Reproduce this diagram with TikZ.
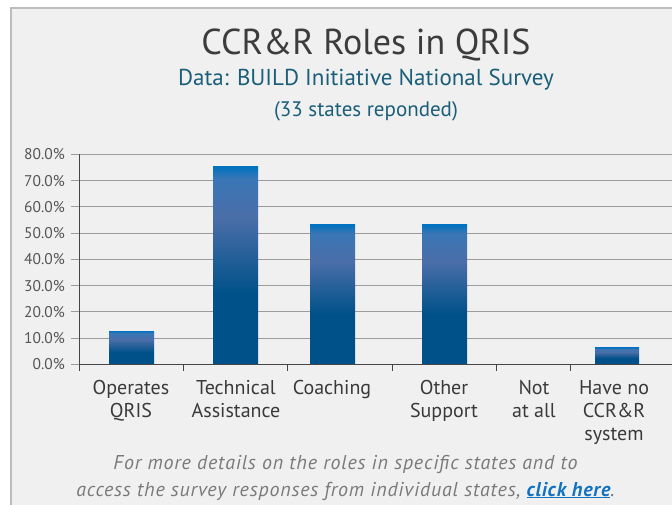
\documentclass[tikz,border=0pt]{standalone}
\usepackage{fontspec}
\setmainfont{PT Sans}
\newfontfamily\footfont[LetterSpace=4]{PT Sans}
\definecolor{panelfill}{HTML}{F0F0F0}
\definecolor{panelborder}{HTML}{BDBDBD}
\definecolor{titlecol}{HTML}{3C3C3C}
\definecolor{subcol}{HTML}{1A5E78}
\definecolor{gridcol}{HTML}{9C9C9C}
\definecolor{axiscol}{HTML}{454545}
\definecolor{ylabcol}{HTML}{555555}
\definecolor{catcol}{HTML}{3A3A3A}
\definecolor{footcol}{HTML}{7A7A7A}
\definecolor{linkcol}{HTML}{1272C2}
\definecolor{bardark}{HTML}{005189}
\definecolor{barmid}{HTML}{4A6EA8}
\definecolor{bartoptwo}{HTML}{3A76B6}
\definecolor{bartop}{HTML}{0072BE}
\pgfdeclareverticalshading{barshade}{100bp}{color(0bp)=(bardark); color(25bp)=(bardark); color(43bp)=(bardark); color(62bp)=(barmid); color(72bp)=(bartoptwo); color(75bp)=(bartop); color(100bp)=(bartop)}
\tikzset{
  grid line/.style={draw=gridcol, line width=1pt},
  axis line/.style={draw=axiscol, line width=1pt},
  bar/.style={shading=barshade},
  ylab/.style={anchor=base east, inner sep=0pt, text=ylabcol, font=\fontsize{15.5}{16}\selectfont},
  catlab/.style={anchor=north, inner sep=0pt, text=catcol, align=center, font=\fontsize{20}{23}\selectfont},
  footlab/.style={anchor=base, inner sep=0pt, text=footcol, font=\footfont\fontsize{20}{22}\selectfont\itshape},
}
\begin{document}
\begin{tikzpicture}[x=1pt,y=-1pt]
\useasboundingbox (0,0) rectangle (672,505);
\fill[white] (0,0) rectangle (672,505);
\draw[draw=panelborder, fill=panelfill, line width=1.2pt] (11,8) rectangle (690,520);
% titles
\node[anchor=base, inner sep=0pt, text=titlecol, font=\fontsize{36}{36}\selectfont] (title) at (366,55) {CCR\&R Roles in QRIS};
\node[anchor=base, inner sep=0pt, text=subcol, font=\fontsize{23}{24}\selectfont] (sub) at (366,86) {Data: BUILD Initiative National Survey};
\node[anchor=base, inner sep=0pt, text=subcol, font=\fontsize{21}{22}\selectfont] (sub2) at (366,116.5) {(33 states reponded)};
% gridlines
\foreach \v in {1,...,8} {
  \draw[grid line] (71,{364.3-26.25*\v}) -- (672,{364.3-26.25*\v});
}
\draw[grid line] (71,364.3) -- (79,364.3);
% y labels
\foreach \v/\t in {0/0.0\%,1/10.0\%,2/20.0\%,3/30.0\%,4/40.0\%,5/50.0\%,6/60.0\%,7/70.0\%,8/80.0\%} {
  \node[ylab] (y\v) at (65,{364.3-26.25*\v+5.5}) {\t};
}
% bars
\shade[bar] (109,331) rectangle (154,364.3);
\shade[bar] (213,167) rectangle (258,364.3);
\shade[bar] (310,225) rectangle (355,364.3);
\shade[bar] (422,225) rectangle (467,364.3);
\shade[bar] (595,347.7) rectangle (639,364.3);
% axes
\draw[axis line] (79,154.3) -- (79,370.7);
\draw[axis line] (79,364.3) -- (672,364.3);
\foreach \x in {183.7,287.7,392.3,496.3,570.3} {
  \draw[axis line] (\x,364.3) -- (\x,370.7);
}
% category labels
\node[catlab] (c1) at (131,380) {Operates\\QRIS};
\node[catlab] (c2) at (236,380) {Technical\\Assistance};
\node[catlab] (c3) at (332,380) {Coaching};
\node[catlab] (c4) at (444,380) {Other\\Support};
\node[catlab] (c5) at (534,380) {Not\\at all};
\node[catlab] (c6) at (614,380) {Have no\\CCR\&R\\system};
% footer
\node[footlab] (f1) at (345.5,469) {For more details on the roles in specific states and to};
\node[footlab] (f2) at (345.5,496) {access the survey responses from individual states, \textcolor{linkcol}{\bfseries\underline{click here}}.};
\end{tikzpicture}
\end{document}
